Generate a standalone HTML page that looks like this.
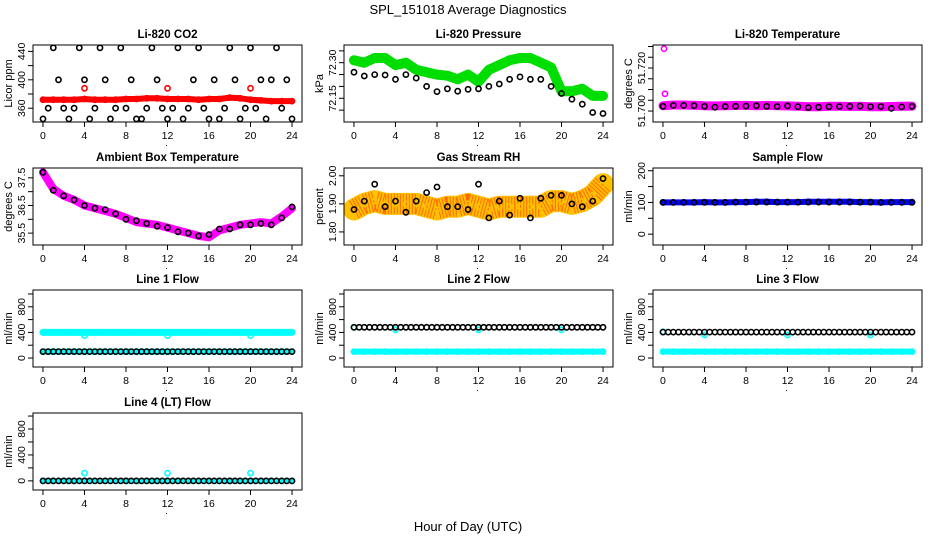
<!DOCTYPE html>
<html><head><meta charset="utf-8"><style>
html,body{margin:0;padding:0;background:#fff;}
svg{display:block;font-family:"Liberation Sans",Arial,sans-serif;}
</style></head><body>
<svg id="chart" width="936" height="540" viewBox="0 0 936 540" xmlns="http://www.w3.org/2000/svg">
<text x="468" y="14" text-anchor="middle" font-size="13">SPL_151018  Average Diagnostics</text>
<text x="468" y="531" text-anchor="middle" font-size="13">Hour of Day (UTC)</text>
</svg>
<script>
const hours25 = [0,1,2,3,4,5,6,7,8,9,10,11,12,13,14,15,16,17,18,19,20,21,22,23,24];
const hours49 = [0,0.5,1,1.5,2,2.5,3,3.5,4,4.5,5,5.5,6,6.5,7,7.5,8,8.5,9,9.5,10,10.5,11,11.5,12,12.5,13,13.5,14,14.5,15,15.5,16,16.5,17,17.5,18,18.5,19,19.5,20,20.5,21,21.5,22,22.5,23,23.5,24];
const xTicks = [0,4,8,12,16,20,24];
const spikeHours = [4,12,20];

const co2Black = [345,360,445,400,360,345,360,445,400,345,360,445,400,345,360,445,360,400,345,345,360,445,400,360,345,360,445,345,360,400,445,360,345,400,345,360,445,400,345,360,445,360,400,345,400,445,360,400,345];
const co2Band = [372,372,372,372,373,372,372,372,373,373,374,374,373,373,373,372,373,373,375,374,372,371,370,370,370];
const co2Red = [388,388,388];

const presGreen = [72.31,72.30,72.32,72.32,72.29,72.30,72.27,72.26,72.25,72.245,72.23,72.25,72.22,72.27,72.29,72.31,72.32,72.32,72.30,72.28,72.18,72.18,72.19,72.16,72.16];
const presBlack = [72.26,72.244,72.25,72.248,72.23,72.25,72.235,72.20,72.178,72.19,72.18,72.188,72.19,72.20,72.21,72.23,72.24,72.23,72.23,72.20,72.17,72.146,72.125,72.09,72.086];

const licTempBand = [51.7025,51.7028,51.7028,51.7027,51.7025,51.7024,51.7025,51.7026,51.7026,51.7025,51.7026,51.7025,51.7024,51.7022,51.7020,51.7020,51.7022,51.7022,51.7021,51.7022,51.7020,51.7020,51.7021,51.7022,51.7023];
const licTempBlack = [51.7022,51.7026,51.7026,51.7025,51.7022,51.7018,51.7021,51.7022,51.7023,51.7025,51.7022,51.7021,51.7024,51.7020,51.7016,51.7018,51.7020,51.7021,51.7022,51.7023,51.7020,51.7021,51.7012,51.7019,51.7022];
const licTempOutHours = [0.1,0.2];
const licTempOut = [51.729,51.708];

const ambBand = [37.7,37.1,36.85,36.7,36.5,36.4,36.3,36.2,36.05,35.9,35.85,35.8,35.7,35.6,35.5,35.4,35.35,35.6,35.7,35.8,35.85,35.9,35.85,36.1,36.4];
const ambBlack = [37.7,37.05,36.85,36.7,36.5,36.4,36.35,36.2,36.0,35.95,35.85,35.75,35.7,35.55,35.5,35.4,35.45,35.65,35.65,35.8,35.8,35.85,35.8,36.05,36.45];

const rhBand = [1.88,1.90,1.91,1.90,1.90,1.90,1.90,1.89,1.88,1.89,1.89,1.90,1.89,1.88,1.89,1.89,1.89,1.89,1.89,1.91,1.91,1.90,1.91,1.93,1.97];
const rhBlack = [1.88,1.91,1.97,1.89,1.91,1.87,1.91,1.94,1.96,1.89,1.89,1.88,1.97,1.85,1.91,1.86,1.92,1.85,1.92,1.93,1.93,1.90,1.89,1.91,1.99];

const sampleBand = [100,100,100,100,101,100,100,101,101,102,102,101,101,101,102,102,102,102,102,101,101,100,101,101,101];
const sampleBlack = [100,100,100,100,100,100,100,101,101,101,101,101,101,101,101,101,101,101,101,101,101,100,100,100,100];

const l1CyanHigh = [400,400,400,400,400,400,400,400,400,400,400,400,400,400,400,400,400,400,400,400,400,400,400,400,400];
const l1CyanLow = [100,100,100,100,100,100,100,100,100,100,100,100,100,100,100,100,100,100,100,100,100,100,100,100,100];
const l1Spike = [350,350,350];
const l1Black = [100,100,100,100,100,100,100,100,100,100,100,100,100,100,100,100,100,100,100,100,100,100,100,100,100,100,100,100,100,100,100,100,100,100,100,100,100,100,100,100,100,100,100,100,100,100,100,100,100];

const l2CyanLow = [100,100,100,100,100,100,100,100,100,100,100,100,100,100,100,100,100,100,100,100,100,100,100,100,100];
const l2CyanStart = [480];
const l2Spike = [440,440,440];
const l2Black = [480,480,480,480,480,480,480,480,480,480,480,480,480,480,480,480,480,480,480,480,480,480,480,480,480,480,480,480,480,480,480,480,480,480,480,480,480,480,480,480,480,480,480,480,480,480,480,480,480];

const l3CyanLow = [100,100,100,100,100,100,100,100,100,100,100,100,100,100,100,100,100,100,100,100,100,100,100,100,100];
const l3CyanStart = [410];
const l3Spike = [360,360,360];
const l3Black = [405,405,405,405,405,405,405,405,405,405,405,405,405,405,405,405,405,405,405,405,405,405,405,405,405,405,405,405,405,405,405,405,405,405,405,405,405,405,405,405,405,405,405,405,405,405,405,405,405];

const l4Cyan = [0,0,0,0,0,0,0,0,0,0,0,0,0,0,0,0,0,0,0,0,0,0,0,0,0];
const l4Spike = [120,120,120];
const l4Black = [0,0,0,0,0,0,0,0,0,0,0,0,0,0,0,0,0,0,0,0,0,0,0,0,0,0,0,0,0,0,0,0,0,0,0,0,0,0,0,0,0,0,0,0,0,0,0,0,0];

const flowTicks = [0,200,400,600,800,1000];
const flowLabels = [0,400,800];

const NS = "http://www.w3.org/2000/svg";
const svg = document.getElementById("chart");
const colX = [33,344,653];
const rowY = [45,168,290,413];
const BW = 269, BH = 77;
const XMIN = -0.96, XMAX = 24.96;

function mk(tag, attrs, parent){
  const e = document.createElementNS(NS, tag);
  for (const k in attrs) e.setAttribute(k, attrs[k]);
  (parent||svg).appendChild(e);
  return e;
}

const panels = [
 {id:"co2", col:0,row:0,title:"Li-820 CO2",ylab:"Licor ppm",ylim:[340.6,449],ticks:[360,380,400,420,440],labels:[360,400,440],fmt:v=>String(v),
  series:[
   {xs:hours25,ys:co2Band,color:"#ff0000",band:6},
   {xs:spikeHours,ys:co2Red,color:"#ff0000"},
   {xs:hours49,ys:co2Black,color:"#000"}]},
 {id:"pressure", col:1,row:0,title:"Li-820 Pressure",ylab:"kPa",ylim:[72.05,72.3746],ticks:[72.10,72.15,72.20,72.25,72.30,72.35],labels:[72.15,72.30],fmt:v=>v.toFixed(2),
  series:[
   {xs:hours25,ys:presGreen,color:"#00dd00",band:10},
   {xs:hours25,ys:presBlack,color:"#000"}]},
 {id:"li820-temp", col:2,row:0,title:"Li-820 Temperature",ylab:"degrees C",ylim:[51.6949,51.7307],ticks:[51.700,51.705,51.710,51.715,51.720,51.725,51.730],labels:[51.700,51.720],fmt:v=>v.toFixed(3),
  series:[
   {xs:hours25,ys:licTempBand,color:"#ff00ff",band:9},
   {xs:licTempOutHours,ys:licTempOut,color:"#ff00ff"},
   {xs:hours25,ys:licTempBlack,color:"#000"}]},
 {id:"ambient-temp", col:0,row:1,title:"Ambient Box Temperature",ylab:"degrees C",ylim:[35.071,37.855],ticks:[35.5,36.0,36.5,37.0,37.5],labels:[35.5,36.5,37.5],fmt:v=>v.toFixed(1),
  series:[
   {xs:hours25,ys:ambBand,color:"#ff00ff",band:8},
   {xs:hours25,ys:ambBlack,color:"#000"}]},
 {id:"gas-rh", col:1,row:1,title:"Gas Stream RH",ylab:"percent",ylim:[1.7534,2.0278],ticks:[1.80,1.90,2.00],labels:[1.80,1.90,2.00],fmt:v=>v.toFixed(2),
  series:[
   {xs:hours25,ys:rhBand,color:"#ffc000",band:22,dots:true},
   {xs:hours25,ys:rhBlack,color:"#000"}]},
 {id:"sample-flow", col:2,row:1,title:"Sample Flow",ylab:"ml/min",ylim:[-34.2,208.6],ticks:[0,50,100,150,200],labels:[0,100,200],fmt:v=>String(v),
  series:[
   {xs:hours25,ys:sampleBand,color:"#0000ff",band:6},
   {xs:hours25,ys:sampleBlack,color:"#000"}]},
 {id:"line1-flow", col:0,row:2,title:"Line 1 Flow",ylab:"ml/min",ylim:[-140,1062],ticks:flowTicks,labels:flowLabels,fmt:v=>String(v),
  series:[
   {xs:hours25,ys:l1CyanHigh,color:"#00ffff",band:7},
   {xs:hours25,ys:l1CyanLow,color:"#00ffff",band:6},
   {xs:spikeHours,ys:l1Spike,color:"#00ffff"},
   {xs:hours49,ys:l1Black,color:"#000"}]},
 {id:"line2-flow", col:1,row:2,title:"Line 2 Flow",ylab:"ml/min",ylim:[-140,1062],ticks:flowTicks,labels:flowLabels,fmt:v=>String(v),
  series:[
   {xs:hours25,ys:l2CyanLow,color:"#00ffff",band:6},
   {xs:[0],ys:l2CyanStart,color:"#00ffff"},
   {xs:spikeHours,ys:l2Spike,color:"#00ffff"},
   {xs:hours49,ys:l2Black,color:"#000"}]},
 {id:"line3-flow", col:2,row:2,title:"Line 3 Flow",ylab:"ml/min",ylim:[-140,1062],ticks:flowTicks,labels:flowLabels,fmt:v=>String(v),
  series:[
   {xs:hours25,ys:l3CyanLow,color:"#00ffff",band:6},
   {xs:[0],ys:l3CyanStart,color:"#00ffff"},
   {xs:spikeHours,ys:l3Spike,color:"#00ffff"},
   {xs:hours49,ys:l3Black,color:"#000"}]},
 {id:"line4-flow", col:0,row:3,title:"Line 4 (LT) Flow",ylab:"ml/min",ylim:[-141,1047],ticks:flowTicks,labels:flowLabels,fmt:v=>String(v),
  series:[
   {xs:hours25,ys:l4Cyan,color:"#00ffff",band:5},
   {xs:spikeHours,ys:l4Spike,color:"#00ffff"},
   {xs:hours49,ys:l4Black,color:"#000"}]}
];

panels.forEach((p,pi)=>{
  const bx = colX[p.col], by = rowY[p.row];
  const sx = h => bx + (h - XMIN)/(XMAX - XMIN)*BW;
  const sy = v => by + BH - (v - p.ylim[0])/(p.ylim[1]-p.ylim[0])*BH;
  const g = mk("g",{});
  
  
  const cp = mk("clipPath",{id:"clip"+pi},g);
  mk("rect",{x:bx,y:by,width:BW,height:BH},cp);

  const t = mk("text",{x:bx+BW/2,y:by-7,"text-anchor":"middle","font-size":"11.5","font-weight":"bold"},g);
  t.textContent = p.title;
  
  

  const yl = mk("text",{x:0,y:0,"text-anchor":"middle","font-size":"11",transform:`translate(${bx-21},${by+BH/2}) rotate(-90)`},g);
  yl.textContent = p.ylab;
  
  

  const plot = mk("g",{"clip-path":`url(#clip${pi})`},g);
  
  
  p.series.forEach((s,si)=>{
    const sg = mk("g",{},plot);
    
    
    if (s.band){
      const pts = s.xs.map((x,i)=>sx(x).toFixed(1)+","+sy(s.ys[i]).toFixed(1)).join(" ");
      const pl = mk("polyline",{points:pts,fill:"none",stroke:s.color,"stroke-width":s.band,"stroke-linejoin":"round","stroke-linecap":"round"},sg);
      
      
      if (s.dots){
        const pl2 = mk("polyline",{points:pts,fill:"none",stroke:"#ff2000","stroke-width":s.band-2,"stroke-dasharray":"1 2","stroke-linejoin":"round",opacity:"0.55"},sg);
        
        
      }
    }
    s.xs.forEach((x,i)=>{
      const c = mk("circle",{cx:sx(x).toFixed(1),cy:sy(s.ys[i]).toFixed(1),r:"2.6",fill:"none",stroke:s.color,"stroke-width":"1.6"},sg);
      
      
    });
  });

  const box = mk("rect",{x:bx,y:by,width:BW,height:BH,fill:"none",stroke:"#000","stroke-width":"1"},g);
  
  

  const xa = mk("g",{},g);
  
  
  xTicks.forEach(v=>{
    const x = sx(v);
    mk("line",{x1:x,x2:x,y1:by+BH,y2:by+BH+5,stroke:"#000"},xa);
    const tl = mk("text",{x:x,y:by+BH+17,"text-anchor":"middle","font-size":"10.5"},xa);
    tl.textContent = String(v);
    
    
  });
  const dot = mk("text",{x:bx+BW/2-1,y:by+BH+24,"text-anchor":"middle","font-size":"9"},xa);
  dot.textContent = ".";
  
  

  const ya = mk("g",{},g);
  
  
  p.ticks.forEach(v=>{
    const y = sy(v);
    mk("line",{x1:bx-5,x2:bx,y1:y,y2:y,stroke:"#000"},ya);
  });
  p.labels.forEach(v=>{
    const y = sy(v);
    const tl = mk("text",{x:0,y:0,"text-anchor":"middle","font-size":"10.5",transform:`translate(${bx-8},${y}) rotate(-90)`},ya);
    tl.textContent = p.fmt(v);
    
    
  });
});
</script>
</body></html>
